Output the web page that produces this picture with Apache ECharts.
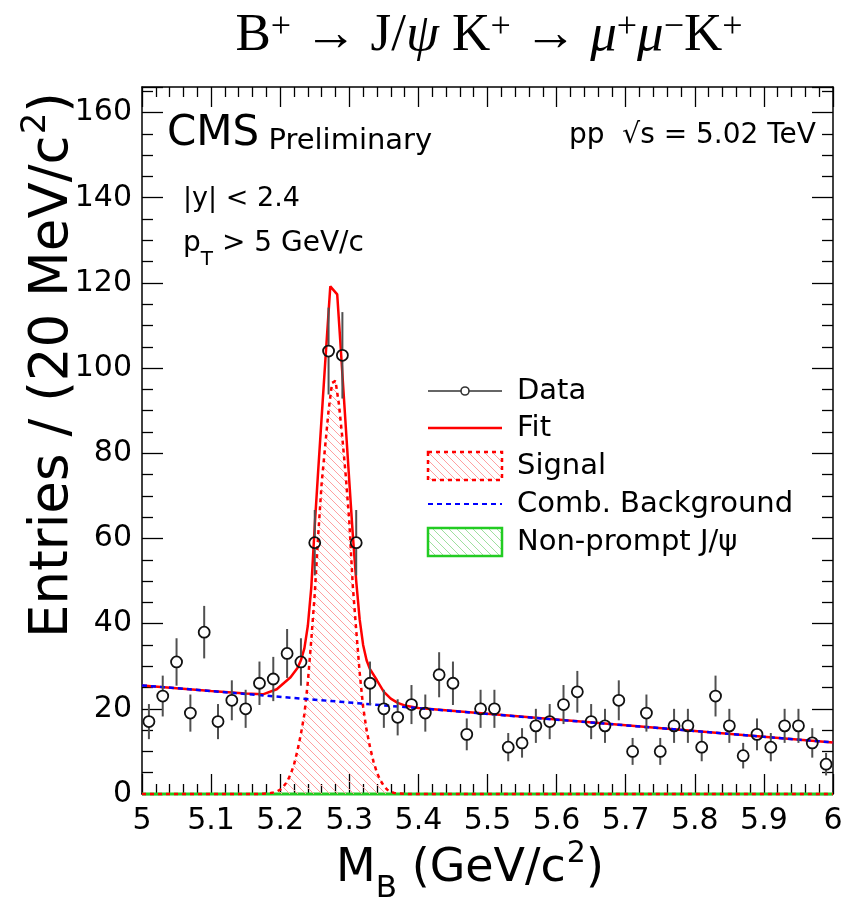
<!DOCTYPE html>
<html><head><meta charset="utf-8">
<script src="https://cdn.jsdelivr.net/npm/echarts@6/dist/echarts.min.js"></script>
<style>html,body{margin:0;padding:0;background:#fff}#c{width:846px;height:901px}</style>
</head><body><div id="c"></div>
<script>
// ---- data ----
const binCenters = [5.01,5.03,5.05,5.07,5.09,5.11,5.13,5.15,5.17,5.19,
  5.21,5.23,5.25,5.27,5.29,5.31,5.33,5.35,5.37,5.39,
  5.41,5.43,5.45,5.47,5.49,5.51,5.53,5.55,5.57,5.59,
  5.61,5.63,5.65,5.67,5.69,5.71,5.73,5.75,5.77,5.79,
  5.81,5.83,5.85,5.87,5.89,5.91,5.93,5.95,5.97,5.99];
const counts = [17,23,31,19,38,17,22,20,26,27,
  33,31,59,104,103,59,26,20,18,21,
  19,28,26,14,20,20,11,12,16,17,
  21,24,17,16,22,10,19,10,16,16,
  11,23,16,9,14,11,16,16,12,7];

const fitX = [5.00,5.10,5.15,5.175,5.195,5.215,5.225,5.23,5.235,5.24,5.245,5.25,5.255,5.26,5.265,5.2725,5.2825,5.2875,5.29,5.295,5.30,5.305,5.31,5.315,5.32,5.325,5.33,5.34,5.35,5.36,5.37,5.38,5.40,6.00];
const fitY = [25.5,24.2,23.6,23.4,24.6,27.4,29.6,31.4,34.2,39.5,48.5,63,76,88.5,101,119.2,117.3,105,98.6,86,73.4,61,50,41,35,31.4,29.3,26.7,24.0,22.4,21.4,20.8,20.2,12.1];

const sigX = [5.00,5.17,5.175,5.18,5.185,5.19,5.195,5.20,5.205,5.21,5.215,5.22,5.225,5.23,5.235,5.24,5.245,5.25,5.255,5.26,5.265,5.27,5.275,5.28,5.285,5.29,5.295,5.30,5.305,5.31,5.315,5.32,5.325,5.33,5.335,5.34,5.345,5.35,5.355,5.36,5.365,5.37,5.38,5.39,6.00];
const sigY = [0,0,0.05,0.1,0.2,0.35,0.6,1.0,1.8,2.9,4.6,6.9,10.2,14.1,18.7,26.3,36.2,47,60.8,73,81.5,90,96.5,97,91.5,83.5,74.5,64,49,38.5,28.5,20.5,15,11,7.6,5.0,3.2,1.9,1.0,0.5,0.25,0.12,0.04,0,0];

const bkgX = [5.0, 6.0];
const bkgY = [25.5, 12.1];
const npX = [5.0, 6.0];
const npY = [0, 0];

const xTickLabels = ['5','5.1','5.2','5.3','5.4','5.5','5.6','5.7','5.8','5.9','6'];
const yTickLabels = ['0','20','40','60','80','100','120','140','160'];

// ---- helpers ----
function hatch(color, size) {
  const c = document.createElement('canvas');
  c.width = size; c.height = size;
  const g = c.getContext('2d');
  g.strokeStyle = color; g.lineWidth = 1;
  g.beginPath();
  for (const k of [-size, 0, size]) { g.moveTo(k, 0); g.lineTo(k + size, size); }
  g.stroke();
  return c;
}
const redHatch = { image: hatch('#ffa0a0', 8), repeat: 'repeat' };
const greenHatch = { image: hatch('#9fdf9f', 8), repeat: 'repeat' };

const SANS = 'DejaVu Sans';
const zip = (xs, ys) => xs.map((x, i) => [x, ys[i]]);

const chart = echarts.init(document.getElementById('c'), null, { renderer: 'canvas' });

const tickStyle = { color: '#000', width: 1.3 };
function xAxisDef(pos, labels) {
  return {
    type: 'value', min: 5, max: 6, interval: 0.1, position: pos,
    axisLine: { show: true, onZero: false, lineStyle: { color: '#000', width: 1.5 } },
    axisTick: { show: true, inside: true, length: 20, lineStyle: tickStyle },
    minorTick: { show: true, splitNumber: 5, length: 10, lineStyle: tickStyle },
    splitLine: { show: false },
    axisLabel: labels ? {
      show: true, fontFamily: SANS, fontSize: 30, color: '#000', margin: 12,
      formatter: v => { const i = Math.round((v - 5) * 10); return Math.abs(v - (5 + i / 10)) < 1e-6 ? (xTickLabels[i] || '') : ''; }
    } : { show: false }
  };
}
function yAxisDef(pos, labels) {
  return {
    type: 'value', min: 0, max: 166, interval: 20, position: pos,
    axisLine: { show: true, onZero: false, lineStyle: { color: '#000', width: 1.5 } },
    axisTick: { show: true, inside: true, length: 21, lineStyle: tickStyle },
    minorTick: { show: true, splitNumber: 4, length: 11, lineStyle: tickStyle },
    splitLine: { show: false },
    axisLabel: labels ? {
      show: true, fontFamily: SANS, fontSize: 30, color: '#000', margin: 10,
      formatter: v => (v % 20 === 0 ? (yTickLabels[v / 20] || '') : '')
    } : { show: false }
  };
}

const dataPts = counts.map((v, i) => [binCenters[i], v, Math.sqrt(v)]);

// rich text styles
const axT = { fontFamily: SANS, fontSize: 46, lineHeight: 54, verticalAlign: 'top', padding: [7, 0, 0, 0], color: '#000' };
const axS = { fontFamily: SANS, fontSize: 31, lineHeight: 31, verticalAlign: 'top', padding: [34, 0, 0, 0], color: '#000' };
const axP = { fontFamily: SANS, fontSize: 30, lineHeight: 30, verticalAlign: 'top', padding: [0, 0, 0, 1], color: '#000' };
const ayT = { fontFamily: SANS, fontSize: 53, lineHeight: 62, verticalAlign: 'top', padding: [8, 0, 0, 0], color: '#000' };
const ayP = { fontFamily: SANS, fontSize: 34, lineHeight: 34, verticalAlign: 'top', padding: [0, 0, 0, 1], color: '#000' };

const SER = 'Liberation Serif';
const tR = { fontFamily: SER, fontSize: 53, lineHeight: 60, verticalAlign: 'top', color: '#000' };
const tI = Object.assign({}, tR, { fontStyle: 'italic' });
const tSup = { fontFamily: SER, fontSize: 36, lineHeight: 36, verticalAlign: 'top', color: '#000' };

const legRows = [391, 428, 466, 504, 542];
const legX0 = 428, legX1 = 502, legTX = 517;
const LEG = 29;

chart.setOption({
  animation: false,
  backgroundColor: '#fff',
  grid: { left: 142, right: 13, top: 87, bottom: 107, containLabel: false },
  xAxis: [xAxisDef('bottom', true), xAxisDef('top', false)],
  yAxis: [yAxisDef('left', true), yAxisDef('right', false)],
  series: [
    { name: 'Non-prompt J/ψ', type: 'line', data: zip(npX, npY), symbol: 'none', clip: false,
      lineStyle: { color: '#22cc22', width: 3 }, z: 3 },
    { name: 'Signal', type: 'line', data: zip(sigX, sigY), symbol: 'none', clip: false,
      lineStyle: { color: '#ff0000', width: 2.5, type: [4, 4] },
      areaStyle: { color: redHatch, opacity: 1 }, z: 4 },
    { name: 'Fit', type: 'line', data: zip(fitX, fitY), symbol: 'none',
      lineStyle: { color: '#ff0000', width: 2.5 }, z: 5 },
    { name: 'Comb. Background', type: 'line', data: zip(bkgX, bkgY), symbol: 'none',
      lineStyle: { color: '#0000ff', width: 2.5, type: [5, 4] }, z: 6 },
    { name: 'Data', type: 'custom', data: dataPts, z: 7,
      encode: { x: 0, y: 1 },
      renderItem: function (params, api) {
        const x = api.value(0), y = api.value(1), e = api.value(2);
        const c = api.coord([x, y]);
        const top = api.coord([x, y + e]);
        const bot = api.coord([x, Math.max(0, y - e)]);
        const r = 5.5;
        const ch = [];
        if (top[1] < c[1] - r) ch.push({ type: 'line', shape: { x1: c[0], y1: top[1], x2: c[0], y2: c[1] - r }, style: { stroke: '#505050', lineWidth: 2 } });
        if (bot[1] > c[1] + r) ch.push({ type: 'line', shape: { x1: c[0], y1: c[1] + r, x2: c[0], y2: bot[1] }, style: { stroke: '#505050', lineWidth: 2 } });
        ch.push({ type: 'circle', shape: { cx: c[0], cy: c[1], r: r }, style: { fill: 'rgba(255,255,255,0)', stroke: '#111', lineWidth: 1.8 } });
        return { type: 'group', children: ch };
      } }
  ],
  graphic: [
    // title
    { type: 'text', x: 489, y: 40, style: {
      text: '{r|B}{s|+}{r| → J/}{i|ψ}{r| K}{s|+}{r| → }{i|μ}{s|+}{i|μ}{s|−}{r|K}{s|+}',
      align: 'center', verticalAlign: 'middle', rich: { r: tR, i: tI, s: tSup } } },
    // CMS Preliminary
    { type: 'text', x: 167, y: 137, style: {
      text: '{c|CMS}{p| Preliminary}', align: 'left', verticalAlign: 'middle',
      rich: { c: { fontFamily: SANS, fontSize: 42, lineHeight: 48, verticalAlign: 'top', color: '#000' },
              p: { fontFamily: SANS, fontSize: 29, lineHeight: 29, verticalAlign: 'top', padding: [14, 0, 0, 0], color: '#000' } } } },
    { type: 'text', x: 816, y: 136, style: { text: 'pp  √s = 5.02 TeV', align: 'right', verticalAlign: 'middle', fontFamily: SANS, fontSize: 28, fill: '#000' } },
    { type: 'text', x: 183, y: 199, style: { text: '|y| < 2.4', align: 'left', verticalAlign: 'middle', fontFamily: SANS, fontSize: 27, fill: '#000' } },
    { type: 'text', x: 183, y: 246, style: {
      text: '{t|p}{s|T}{t| > 5 GeV/c}', align: 'left', verticalAlign: 'middle',
      rich: { t: { fontFamily: SANS, fontSize: 28, lineHeight: 33, verticalAlign: 'top', color: '#000' },
              s: { fontFamily: SANS, fontSize: 20, lineHeight: 20, verticalAlign: 'top', padding: [20, 0, 0, 0], color: '#000' } } } },
    // legend
    { type: 'line', shape: { x1: legX0, y1: legRows[0], x2: legX1, y2: legRows[0] }, style: { stroke: '#666', lineWidth: 2 } },
    { type: 'circle', shape: { cx: (legX0 + legX1) / 2, cy: legRows[0], r: 4 }, style: { fill: '#fff', stroke: '#333', lineWidth: 1.6 } },
    { type: 'line', shape: { x1: legX0, y1: legRows[1], x2: legX1, y2: legRows[1] }, style: { stroke: '#ff0000', lineWidth: 2.5 } },
    { type: 'rect', shape: { x: legX0, y: legRows[2] - 14, width: legX1 - legX0, height: 28 }, style: { fill: redHatch, stroke: '#ff0000', lineWidth: 2.5, lineDash: [4, 4] } },
    { type: 'line', shape: { x1: legX0, y1: legRows[3], x2: legX1, y2: legRows[3] }, style: { stroke: '#0000ff', lineWidth: 2, lineDash: [5, 4] } },
    { type: 'rect', shape: { x: legX0, y: legRows[4] - 14, width: legX1 - legX0, height: 28 }, style: { fill: greenHatch, stroke: '#22cc22', lineWidth: 2.5 } },
    { type: 'text', x: legTX, y: legRows[0], style: { text: 'Data', verticalAlign: 'middle', fontFamily: SANS, fontSize: LEG, fill: '#000' } },
    { type: 'text', x: legTX, y: legRows[1], style: { text: 'Fit', verticalAlign: 'middle', fontFamily: SANS, fontSize: LEG, fill: '#000' } },
    { type: 'text', x: legTX, y: legRows[2], style: { text: 'Signal', verticalAlign: 'middle', fontFamily: SANS, fontSize: LEG, fill: '#000' } },
    { type: 'text', x: legTX, y: legRows[3], style: { text: 'Comb. Background', verticalAlign: 'middle', fontFamily: SANS, fontSize: LEG, fill: '#000' } },
    { type: 'text', x: legTX, y: legRows[4], style: { text: 'Non-prompt J/ψ', verticalAlign: 'middle', fontFamily: SANS, fontSize: LEG, fill: '#000' } },
    // axis titles
    { type: 'text', x: 470, y: 866, style: {
      text: '{t|M}{s|B}{t| (GeV/c}{p|2}{t|)}', align: 'center', verticalAlign: 'middle', rich: { t: axT, s: axS, p: axP } } },
    { type: 'text', x: 50, y: 92, rotation: Math.PI / 2, style: {
      text: '{t|Entries / (20 MeV/c}{p|2}{t|)}', align: 'right', verticalAlign: 'middle', rich: { t: ayT, p: ayP } } }
  ]
});
</script>
</body></html>
